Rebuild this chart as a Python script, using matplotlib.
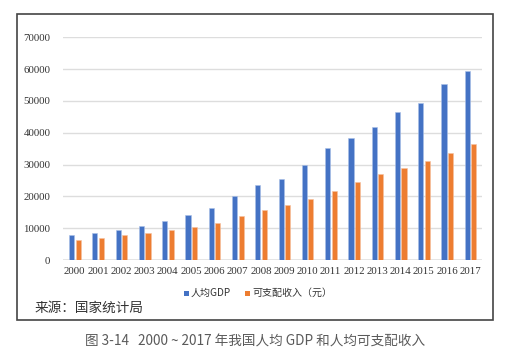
import matplotlib
matplotlib.use("Agg")
import matplotlib.pyplot as plt
import numpy as np
from matplotlib.patches import Rectangle

years = [str(y) for y in range(2000, 2018)]
gdp = [7858, 8622, 9398, 10542, 12336, 14185, 16500, 20169, 23708, 25608,
       29992, 35181, 38420, 41908, 46629, 49351, 55300, 59300]
income = [6280, 6860, 7703, 8472, 9422, 10493, 11759, 13786, 15781, 17175,
          19109, 21810, 24565, 26955, 28844, 31195, 33616, 36396]
yticks = [0, 10000, 20000, 30000, 40000, 50000, 60000, 70000]
legend_labels = ["人均GDP", "可支配收入（元）"]
source_text = "来源：国家统计局"
caption = "图 3-14   2000 ~ 2017 年我国人均 GDP 和人均可支配收入"

BLUE = "#4472C4"
ORANGE = "#ED7D31"
W, H = 506, 360

fig = plt.figure(figsize=(W / 100, H / 100), dpi=100)
fig.patch.set_facecolor("white")

ax = fig.add_axes([63 / W, 1 - 260 / H, (482 - 63) / W, (260 - 37.3) / H])
x = np.arange(len(years))
bw = 0.22
ax.bar(x - bw / 2 - 0.02, gdp, width=bw, color=BLUE, edgecolor="#a9c0e8", linewidth=0.4, zorder=3)
ax.bar(x + bw / 2 + 0.04, income, width=bw, color=ORANGE, edgecolor="#f5c1a0", linewidth=0.4, zorder=3)
ax.set_xlim(-0.5, len(years) - 0.5)
ax.set_ylim(0, 70000)
ax.set_yticks(yticks)
ax.set_yticklabels([str(v) for v in yticks], fontfamily="Liberation Serif", fontsize=7.8, color="#333333")
ax.set_xticks(x)
ax.set_xticklabels(years, fontfamily="Liberation Serif", fontsize=7.8, color="#333333")
ax.tick_params(axis="both", length=0)
ax.tick_params(axis="y", pad=9)
ax.tick_params(axis="x", pad=5)
for v in yticks[1:]:
    ax.axhline(v, color="#dddddd", linewidth=1.0, zorder=1)
ax.axhline(0, color="#dddddd", linewidth=1.8, zorder=2)
for s in ax.spines.values():
    s.set_visible(False)
ax.set_facecolor("none")

# legend
ly = 1 - 293 / H
fig.patches.append(Rectangle((184 / W, ly - 2.5 / H), 5 / W, 5 / H, transform=fig.transFigure,
                             facecolor=BLUE, edgecolor="none"))
fig.text(191 / W, ly, legend_labels[0], family=["Noto Sans CJK SC", "DejaVu Sans"], fontsize=7.2,
         color="#333333", va="center", ha="left")
fig.patches.append(Rectangle((245 / W, ly - 2.5 / H), 5 / W, 5 / H, transform=fig.transFigure,
                             facecolor=ORANGE, edgecolor="none"))
fig.text(252 / W, ly, legend_labels[1], family=["Noto Sans CJK SC", "DejaVu Sans"], fontsize=7.2,
         color="#333333", va="center", ha="left")

# source
fig.text(35 / W, 1 - 308 / H, source_text, family=["Noto Sans CJK SC", "DejaVu Sans"], fontsize=9.8,
         color="#333333", va="center", ha="left")

# frame
fig.patches.append(Rectangle((17 / W, 1 - 320 / H), (493 - 17) / W, (320 - 14) / H,
                             transform=fig.transFigure, facecolor="none", edgecolor="#444444",
                             linewidth=1.2))

# caption
fig.text(255 / W, 1 - 342 / H, caption, family=["Noto Sans CJK SC", "DejaVu Sans"], fontsize=9.8,
         color="#5a5a5a", va="center", ha="center")

fig.savefig("out.png", dpi=100)
